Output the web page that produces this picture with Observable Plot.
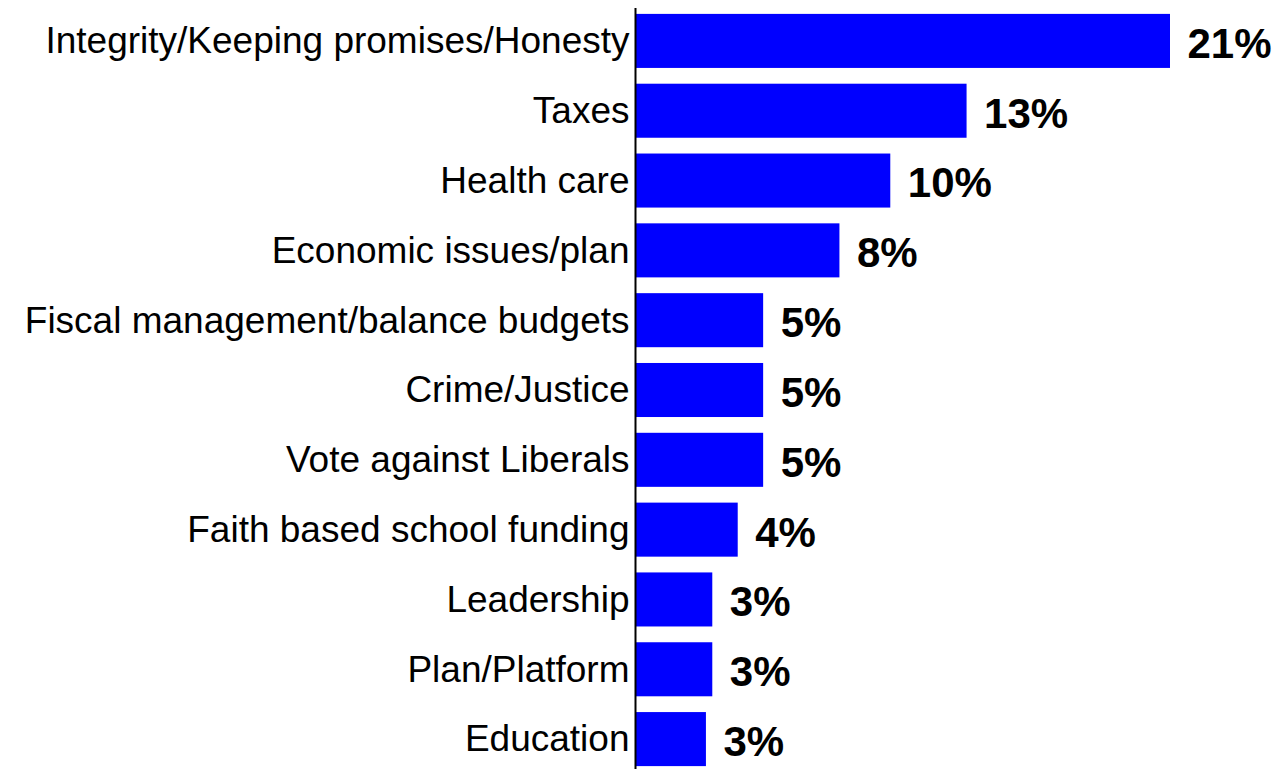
<!DOCTYPE html>
<html>
<head>
<meta charset="utf-8">
<script src="https://cdn.jsdelivr.net/npm/d3@7"></script>
<script src="https://cdn.jsdelivr.net/npm/@observablehq/plot@0.6"></script>
<style>
  html, body { margin: 0; padding: 0; background: #fff; }
  #chart svg { display: block; }
</style>
</head>
<body>
<div id="chart"></div>
<script>
const categories = [
  "Integrity/Keeping promises/Honesty",
  "Taxes",
  "Health care",
  "Economic issues/plan",
  "Fiscal management/balance budgets",
  "Crime/Justice",
  "Vote against Liberals",
  "Faith based school funding",
  "Leadership",
  "Plan/Platform",
  "Education"
];
const values = [21, 13, 10, 8, 5, 5, 5, 4, 3, 3, 2.75];
const valueLabels = ["21%", "13%", "10%", "8%", "5%", "5%", "5%", "4%", "3%", "3%", "3%"];

const data = categories.map((c, i) => ({category: c, value: values[i], label: valueLabels[i]}));

const chart = Plot.plot({
  width: 1277,
  height: 769,
  marginLeft: 636,
  marginRight: 107,
  marginTop: 8,
  marginBottom: 0,
  style: {fontFamily: "'Liberation Sans', Arial, Helvetica, sans-serif", color: "#000", background: "#fff"},
  x: {domain: [0, 21], axis: null},
  y: {domain: categories, range: [6, 774], paddingInner: 0.226, paddingOuter: 0.113, round: false, label: null},
  marks: [
    Plot.barX(data, {x: "value", y: "category", fill: "#0000ff"}),
    Plot.ruleX([0], {stroke: "#000", strokeWidth: 2, dx: -1}),
    Plot.axisY({tickSize: 0, tickPadding: 7, fontSize: 37, label: null}),
    Plot.text(data, {x: "value", y: "category", text: "label", textAnchor: "start", dx: 17, dy: 3, fontSize: 42, fontWeight: "bold", fill: "#000"})
  ]
});
document.getElementById("chart").appendChild(chart);
</script>
</body>
</html>
